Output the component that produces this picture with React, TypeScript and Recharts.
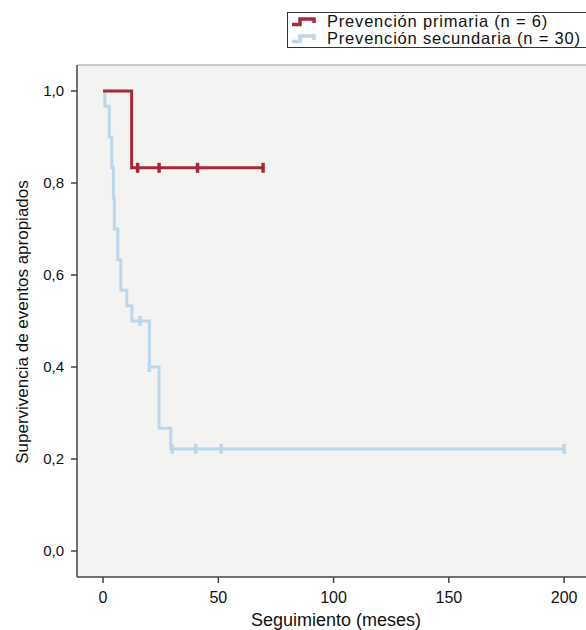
import * as React from 'react'
import {
  LineChart,
  Line,
  XAxis,
  YAxis,
  CartesianGrid,
  ReferenceLine,
} from 'recharts'

// Kaplan-Meier steps (time in months, survival)
const primTimes = [0, 12.4, 15, 24.3, 41, 69.4]
const primSurv = [1, 0.833, 0.833, 0.833, 0.833, 0.833]
const primCensored = [false, false, true, true, true, true]

const secTimes = [0, 0.8, 2.7, 3.8, 4.5, 4.9, 6.4, 7.7, 10.3, 12.5, 16, 20.1, 24.3, 29.4, 30, 40.2, 51.2, 200]
const secSurv = [1, 0.967, 0.9, 0.833, 0.767, 0.7, 0.633, 0.567, 0.533, 0.5, 0.5, 0.4, 0.267, 0.222, 0.222, 0.222, 0.222, 0.222]
const secCensored = [false, false, false, false, false, false, false, false, false, false, true, true, false, false, true, true, true, true]

const xTicks = [0, 50, 100, 150, 200]
const yTicks = [0, 0.2, 0.4, 0.6, 0.8, 1]

const RED = '#A82A38'
const BLUE = '#BCD6EA'
const FONT = '"Liberation Sans", Arial, sans-serif'

const build = (ts: number[], ss: number[], cs: boolean[]) =>
  ts.map((t, i) => ({ t, s: ss[i], c: cs[i] }))

const primData = build(primTimes, primSurv, primCensored)
const secData = build(secTimes, secSurv, secCensored)

function censorDot(color: string) {
  return (props: any) => {
    const { cx, cy, payload, index } = props
    if (!payload?.c) return <g key={index} />
    return (
      <line
        key={index}
        x1={cx}
        x2={cx}
        y1={cy - 5}
        y2={cy + 5}
        stroke={color}
        strokeWidth={3.5}
      />
    )
  }
}

function LegendIcon({ color }: { color: string }) {
  return (
    <svg width={25} height={12} style={{ display: 'block' }}>
      <path d="M1 8.5 H9 V3 H23 V7" fill="none" stroke={color} strokeWidth={3.5} />
    </svg>
  )
}

export default function App() {
  return (
    <div
      style={{
        position: 'absolute',
        left: 0,
        top: 0,
        width: 586,
        height: 630,
        overflow: 'hidden',
        background: '#fff',
        fontFamily: FONT,
      }}
    >
      <LineChart
        width={586}
        height={630}
        margin={{ top: 65, right: 0, bottom: 0, left: 0 }}
      >
        <CartesianGrid fill="#F3F3F1" horizontal={false} vertical={false} />
        <XAxis
          type="number"
          dataKey="t"
          domain={[-11.3, 209.5]}
          ticks={xTicks}
          allowDataOverflow
          height={53}
          stroke="#444"
          strokeWidth={1.5}
          tickSize={6}
          tickMargin={9}
          tick={{ fill: '#111', fontSize: 16, fontFamily: FONT }}
        />
        <YAxis
          type="number"
          dataKey="s"
          domain={[-0.0565, 1.0565]}
          ticks={yTicks}
          allowDataOverflow
          width={77}
          stroke="#444"
          strokeWidth={1.5}
          tickSize={6}
          tickMargin={7}
          tickFormatter={(v: number) => v.toFixed(1).replace('.', ',')}
          tick={{ fill: '#111', fontSize: 15, fontFamily: FONT }}
        />
        <ReferenceLine y={1.0565} stroke="#999" strokeWidth={1} />
        <Line
          data={secData}
          dataKey="s"
          type="stepAfter"
          stroke={BLUE}
          strokeWidth={3}
          dot={censorDot(BLUE)}
          activeDot={false}
          isAnimationActive={false}
        />
        <Line
          data={primData}
          dataKey="s"
          type="stepAfter"
          stroke={RED}
          strokeWidth={3}
          dot={censorDot(RED)}
          activeDot={false}
          isAnimationActive={false}
        />
      </LineChart>

      <svg
        width={586}
        height={630}
        style={{ position: 'absolute', left: 0, top: 0, pointerEvents: 'none' }}
      >
        <text
          x={0}
          y={0}
          transform="translate(28 322) rotate(-90)"
          textAnchor="middle"
          fontSize={17}
          fontFamily={FONT}
          fill="#111"
        >
          Supervivencia de eventos apropiados
        </text>
        <text
          x={336}
          y={626}
          textAnchor="middle"
          fontSize={18}
          fontFamily={FONT}
          fill="#111"
        >
          Seguimiento (meses)
        </text>
      </svg>

      <div
        style={{
          position: 'absolute',
          left: 287,
          top: 12,
          width: 320,
          height: 34,
          border: '1px solid #333',
          background: '#fff',
          fontSize: 16.5,
          letterSpacing: 0.8,
          lineHeight: '17px',
          color: '#111',
        }}
      >
        <div style={{ display: 'flex', alignItems: 'center', height: 17, paddingLeft: 3 }}>
          <LegendIcon color={RED} />
          <span style={{ marginLeft: 11 }}>Prevención primaria (n = 6)</span>
        </div>
        <div style={{ display: 'flex', alignItems: 'center', height: 17, paddingLeft: 3 }}>
          <LegendIcon color={BLUE} />
          <span style={{ marginLeft: 11 }}>Prevención secundaria (n = 30)</span>
        </div>
      </div>
    </div>
  )
}
